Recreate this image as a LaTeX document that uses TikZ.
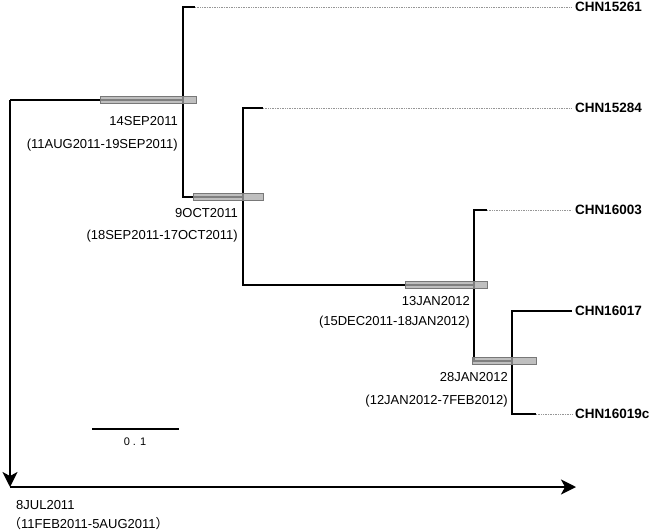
\documentclass[tikz,border=0pt]{standalone}
\usepackage{fontspec}
\setmainfont{Liberation Sans}
\newfontfamily\cjkfont{Noto Sans CJK SC}
\usetikzlibrary{arrows.meta,positioning}
\definecolor{barfill}{RGB}{170,170,170}
\definecolor{bardraw}{RGB}{120,120,120}
\definecolor{tipgray}{RGB}{150,150,150}
\tikzset{
  branchln/.style={line width=2.8pt, line join=miter, black},
  tipln/.style={line width=0.6pt, tipgray, dash pattern=on 0.8pt off 0.9pt},
  axisarr/.style={-{Stealth[length=15pt,width=15pt,inset=4pt]}, line width=2.2pt},
  hpdbox/.style={fill=barfill, fill opacity=0.75, draw=bardraw, line width=0.5pt},
  tiplbl/.style={anchor=west, inner sep=1.5pt, outer sep=1.5pt, font=\fontsize{13.5}{15}\selectfont\bfseries},
  datelbl/.style={anchor=east, inner sep=2pt, font=\fontsize{13}{15}\selectfont},
}
\newcommand{\hpdbar}[3]{%
  \filldraw[hpdbox] (#1,#3-3.5) rectangle (#2,#3+3.5);
}
\newcommand{\cjkparen}[1]{{\cjkfont #1}}

\begin{document}
\begin{tikzpicture}[x=1pt, y=-1pt]
    \useasboundingbox (0,0) rectangle (650,532);
    % tree points
    \coordinate (root) at (10,100);
    \coordinate (n1) at (183,100);
    \coordinate (n2) at (243,197);
    \coordinate (n3) at (474,285);
    \coordinate (n4) at (512,361);
    \coordinate (s15261) at (195,7);
    \coordinate (s15284) at (263,108);
    \coordinate (s16003) at (487,210);
    \coordinate (s16019) at (536,414);
    \coordinate (orig) at (10,487);
    \coordinate (tend) at (576,487);
    % tip labels
    \node[tiplbl] (t15261) at (572,7) {CHN15261};
    \node[tiplbl] (t15284) at (572,108) {CHN15284};
    \node[tiplbl] (t16003) at (572,210) {CHN16003};
    \node[tiplbl] (t16017) at (572,311) {CHN16017};
    \node[tiplbl] (t16019) at (572,414) {CHN16019c};
    % branches
    \draw[branchln] (root) -- (n1);
    \draw[branchln] (s15261) -| (n1 |- n2) -- (n2);
    \draw[branchln] (s15284) -| (n2 |- n3) -- (n3);
    \draw[branchln] (s16003) -| (n3 |- n4) -- (n4);
    \draw[branchln] (t16017.west) -| (n4 |- s16019) -- (s16019);
    \draw[tipln] (s15261) -- (t15261.west);
    \draw[tipln] (s15284) -- (t15284.west);
    \draw[tipln] (s16003) -- (t16003.west);
    \draw[tipln] (s16019) -- (t16019.west);
    % node age bars
    \hpdbar{100}{196}{100}
    \hpdbar{193}{263}{197}
    \hpdbar{405}{487}{285}
    \hpdbar{472}{536}{361}
    % node dates
    \node[datelbl] (d1) at (180,121) {14SEP2011};
    \node[datelbl] (r1) at (180,145) {(11AUG2011-19SEP2011)};
    \node[datelbl] (d2) at (240,213) {9OCT2011};
    \node[datelbl] (r2) at (240,236) {(18SEP2011-17OCT2011)};
    \node[datelbl] (d3) at (472,301) {13JAN2012};
    \node[datelbl] (r3) at (472,322) {(15DEC2011-18JAN2012)};
    \node[datelbl] (d4) at (510,377) {28JAN2012};
    \node[datelbl] (r4) at (510,401) {(12JAN2012-7FEB2012)};
    % scale bar
    \coordinate (sb0) at (92,429);
    \coordinate (sb1) at (179,429);
    \draw[line width=2.7pt] (sb0) -- (sb1);
    \node[font=\fontsize{11}{13}\selectfont] (sblbl) at (135,442) {0 . 1};
    % time axis
    \draw[axisarr] (root) -- (orig);
    \draw[axisarr] (orig) -- (tend);
    \node[anchor=west, inner sep=2pt, font=\fontsize{13}{15}\selectfont] (d0) at (14,505) {8JUL2011};
    \node[anchor=west, inner sep=0pt, font=\fontsize{13}{15}\selectfont] (r0) at (8,524)
      {\cjkparen{（}11FEB2011-5AUG2011\cjkparen{）}};
\end{tikzpicture}
\end{document}
